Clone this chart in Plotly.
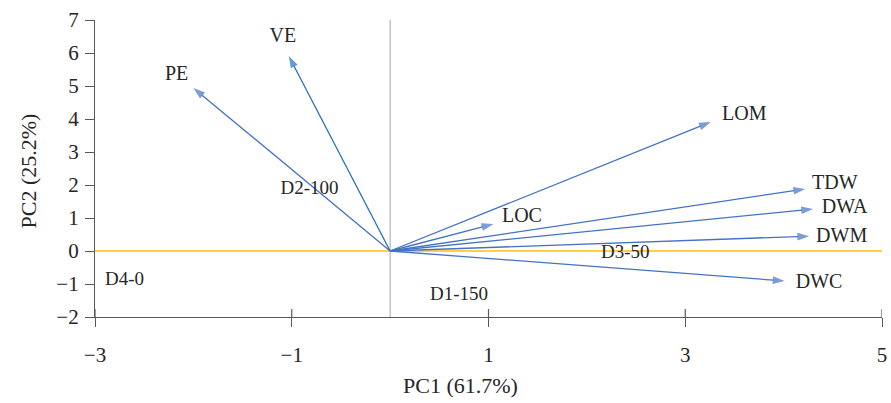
import plotly.graph_objects as go

# ---- data ----
var_names = ["PE", "VE", "LOM", "TDW", "DWA", "DWM", "DWC", "LOC"]
var_pc1 = [-2.0, -1.03, 3.26, 4.22, 4.30, 4.26, 4.01, 1.05]
var_pc2 = [4.94, 5.91, 3.91, 1.88, 1.27, 0.45, -0.91, 0.82]
var_label_pc1 = [-2.17, -1.09, 3.60, 4.52, 4.62, 4.59, 4.36, 1.34]
var_label_pc2 = [5.33, 6.48, 4.12, 2.03, 1.30, 0.42, -0.97, 1.03]

sample_names = ["D1-150", "D2-100", "D3-50", "D4-0"]
sample_pc1 = [0.70, -0.82, 2.39, -2.70]
sample_pc2 = [-1.33, 1.88, -0.06, -0.88]

x_ticks = [-3, -1, 1, 3, 5]
y_ticks = [-2, -1, 0, 1, 2, 3, 4, 5, 6, 7]
x_title = "PC1 (61.7%)"
y_title = "PC2 (25.2%)"

# ---- style ----
FONT = "Liberation Serif"
TXT = "#262626"
AXIS = "#595959"
ARROW = "#4472C4"
ARROW_VE = "#2371BF"
PLOT_H = 403 - 20 - 86
Y_SPAN = y_ticks[-1] - y_ticks[0]
INNER_TICK = 8 * Y_SPAN / PLOT_H  # 8 px in data units

fig = go.Figure()

# reference lines
fig.add_shape(type="line", x0=0, x1=0, y0=y_ticks[0], y1=y_ticks[-1], xref="x", yref="y",
              line=dict(color="#A6A6A6", width=1), layer="below")
fig.add_shape(type="line", x0=x_ticks[0], x1=x_ticks[-1], y0=0, y1=0, xref="x", yref="y",
              line=dict(color="#FFC000", width=1.4), layer="below")

# inside part of the crossing x ticks
tx, ty = [], []
for t in x_ticks:
    tx += [t, t, None]
    ty += [y_ticks[0], y_ticks[0] + INNER_TICK, None]
fig.add_trace(go.Scatter(x=tx, y=ty, mode="lines", line=dict(color=AXIS, width=1.2),
                         hoverinfo="skip", showlegend=False, cliponaxis=False))

# arrows
for name, px, py in zip(var_names, var_pc1, var_pc2):
    col = ARROW_VE if name == "VE" else ARROW
    fig.add_trace(go.Scatter(
        x=[0, px], y=[0, py], mode="lines+markers",
        line=dict(color=col, width=1.3),
        marker=dict(symbol="arrow", size=[0, 12.5], angleref="previous",
                    color=col, line=dict(width=0)),
        hoverinfo="skip", showlegend=False,
    ))

# variable labels
fig.add_trace(go.Scatter(
    x=var_label_pc1, y=var_label_pc2, mode="text", text=var_names,
    textposition="middle center",
    textfont=dict(family=FONT, size=20, color=TXT),
    hoverinfo="skip", showlegend=False,
))

# sample labels
fig.add_trace(go.Scatter(
    x=sample_pc1, y=sample_pc2, mode="text", text=sample_names,
    textposition="middle center",
    textfont=dict(family=FONT, size=19, color=TXT),
    hoverinfo="skip", showlegend=False,
))

fig.update_layout(
    width=891, height=403,
    margin=dict(l=95, r=9, t=20, b=86, autoexpand=False),
    paper_bgcolor="white", plot_bgcolor="white",
    font=dict(family=FONT, color=TXT),
    xaxis=dict(range=[-3, 5], tickvals=x_ticks, showgrid=False, zeroline=False,
               showline=True, linecolor=AXIS, linewidth=1.2,
               ticks="outside", ticklen=9, tickcolor=AXIS, tickwidth=1.2,
               tickfont=dict(family=FONT, size=21, color=TXT),
               ticklabelstandoff=10, automargin=False),
    yaxis=dict(range=[-2, 7], tickvals=y_ticks, showgrid=False, zeroline=False,
               showline=True, linecolor=AXIS, linewidth=1.2,
               ticks="outside", ticklen=9, tickcolor=AXIS, tickwidth=1.2,
               tickfont=dict(family=FONT, size=21, color=TXT),
               ticklabelstandoff=2, automargin=False),
    annotations=[
        dict(text=x_title, xref="paper", yref="paper", x=0.465, y=0,
             yshift=-68, xanchor="center", yanchor="middle", showarrow=False,
             font=dict(family=FONT, size=22, color=TXT)),
        dict(text=y_title, xref="paper", yref="paper", x=0, xshift=-67,
             y=0.49, xanchor="center", yanchor="middle", textangle=-90,
             showarrow=False, font=dict(family=FONT, size=22, color=TXT)),
    ],
)

fig.write_html("out.html", config={"displayModeBar": False},
               post_script="document.body.style.margin='0';document.body.style.overflow='hidden';")
